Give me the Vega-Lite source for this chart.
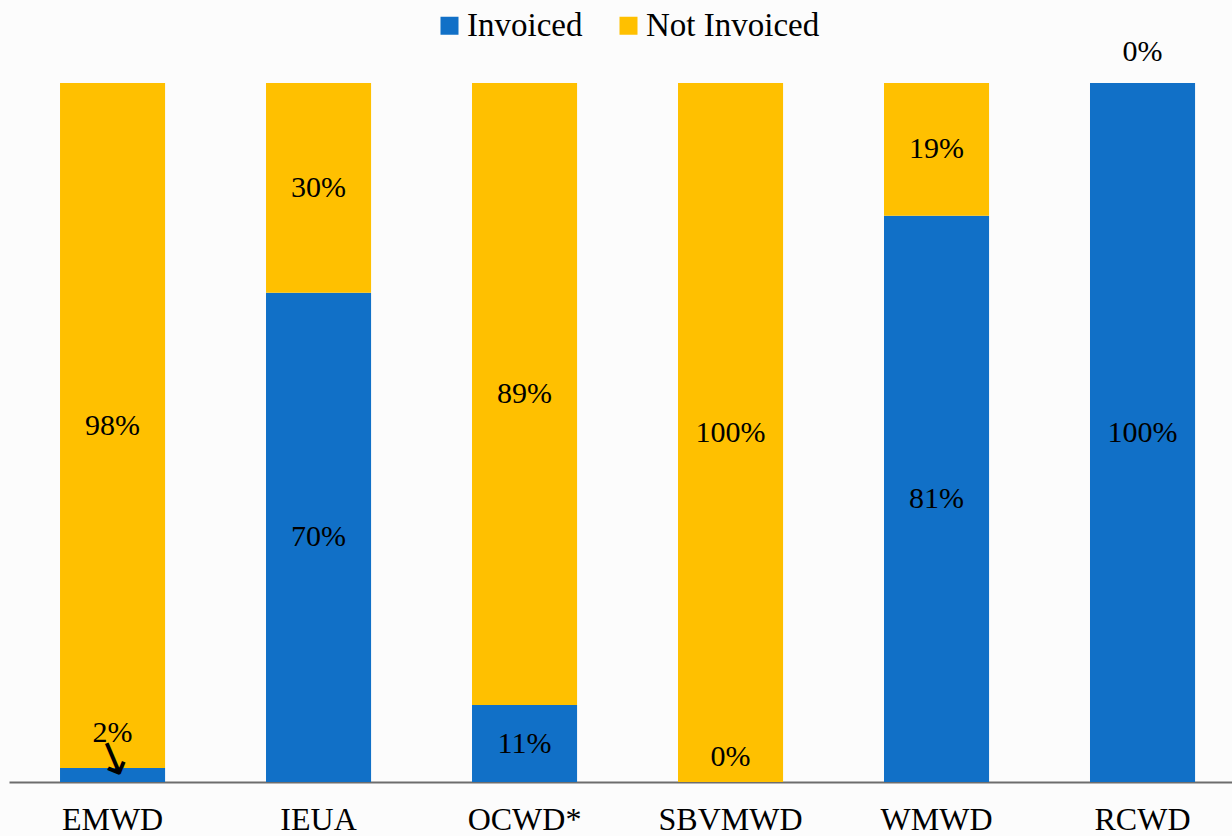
{
  "$schema": "https://vega.github.io/schema/vega-lite/v6.json",
  "width": 1223,
  "height": 699,
  "autosize": {"type": "none"},
  "padding": {"left": 9, "top": 83, "right": 0, "bottom": 54},
  "background": "#fcfcfc",
  "config": {"view": {"stroke": null}, "font": "Liberation Serif"},
  "data": {
    "values": [
      {"site": "EMWD", "status": "Invoiced", "pct": 0.02},
      {"site": "EMWD", "status": "Not Invoiced", "pct": 0.98},
      {"site": "IEUA", "status": "Invoiced", "pct": 0.70},
      {"site": "IEUA", "status": "Not Invoiced", "pct": 0.30},
      {"site": "OCWD*", "status": "Invoiced", "pct": 0.11},
      {"site": "OCWD*", "status": "Not Invoiced", "pct": 0.89},
      {"site": "SBVMWD", "status": "Invoiced", "pct": 0.0},
      {"site": "SBVMWD", "status": "Not Invoiced", "pct": 1.0},
      {"site": "WMWD", "status": "Invoiced", "pct": 0.81},
      {"site": "WMWD", "status": "Not Invoiced", "pct": 0.19},
      {"site": "RCWD", "status": "Invoiced", "pct": 1.0},
      {"site": "RCWD", "status": "Not Invoiced", "pct": 0.0}
    ]
  },
  "transform": [
    {"stack": "pct", "groupby": ["site"], "sort": [{"field": "status", "order": "ascending"}], "as": ["y0", "y1"]},
    {"fold": ["y0", "y1"], "as": ["edge", "pos"]},
    {"aggregate": [{"op": "mean", "field": "pos", "as": "mid"}], "groupby": ["site", "status", "pct"]}
  ],
  "encoding": {
    "x": {
      "field": "site",
      "type": "nominal",
      "sort": ["EMWD", "IEUA", "OCWD*", "SBVMWD", "WMWD", "RCWD"],
      "scale": {"paddingInner": 0.49, "paddingOuter": 0.2135, "align": 0.58, "round": false},
      "axis": {
        "title": null,
        "ticks": false,
        "labelAngle": 0,
        "labelFont": "Liberation Serif",
        "labelFontSize": 32,
        "labelColor": "#000000",
        "labelBaseline": "alphabetic",
        "labelPadding": 47,
        "domainColor": "#6d6d6d",
        "domainWidth": 2,
        "grid": false
      }
    }
  },
  "layer": [
    {
      "mark": {"type": "bar"},
      "encoding": {
        "y": {"field": "pct", "type": "quantitative", "stack": "zero", "scale": {"domain": [0, 1], "nice": false}, "axis": null},
        "order": {"field": "status", "sort": "ascending"},
        "color": {
          "field": "status",
          "type": "nominal",
          "scale": {"domain": ["Invoiced", "Not Invoiced"], "range": ["#1170C7", "#FFC000"]},
          "legend": {
            "title": null,
            "orient": "none",
            "direction": "horizontal",
            "legendX": 424,
            "legendY": -74,
            "padding": 0,
            "symbolType": "square",
            "symbolSize": 324,
            "symbolStrokeWidth": 0,
            "symbolOpacity": 1,
            "labelFont": "Liberation Serif",
            "labelFontSize": 33,
            "labelColor": "#000000",
            "labelOffset": 1,
            "labelLimit": 0,
            "columnPadding": 29
          }
        }
      }
    },
    {
      "transform": [{"filter": "!((datum.site==='SBVMWD'&&datum.status==='Invoiced')||(datum.site==='RCWD'&&datum.status==='Not Invoiced')||(datum.site==='EMWD'&&datum.status==='Invoiced'))"}],
      "mark": {"type": "text", "fontSize": 30, "baseline": "middle", "font": "Liberation Serif", "color": "#000000"},
      "encoding": {
        "y": {"field": "mid", "type": "quantitative", "stack": null},
        "text": {"field": "pct", "type": "quantitative", "format": ".0%"}
      }
    },
    {
      "transform": [{"filter": "datum.site==='SBVMWD'&&datum.status==='Invoiced'"}],
      "mark": {"type": "text", "fontSize": 30, "baseline": "middle", "font": "Liberation Serif", "color": "#000000", "dy": -25},
      "encoding": {
        "y": {"field": "mid", "type": "quantitative", "stack": null},
        "text": {"field": "pct", "type": "quantitative", "format": ".0%"}
      }
    },
    {
      "transform": [{"filter": "datum.site==='RCWD'&&datum.status==='Not Invoiced'"}],
      "mark": {"type": "text", "fontSize": 30, "baseline": "middle", "font": "Liberation Serif", "color": "#000000", "dy": -31},
      "encoding": {
        "y": {"field": "mid", "type": "quantitative", "stack": null},
        "text": {"field": "pct", "type": "quantitative", "format": ".0%"}
      }
    },
    {
      "transform": [{"filter": "datum.site==='EMWD'&&datum.status==='Invoiced'"}],
      "mark": {"type": "text", "fontSize": 30, "baseline": "middle", "font": "Liberation Serif", "color": "#000000", "dy": -42},
      "encoding": {
        "y": {"field": "mid", "type": "quantitative", "stack": null},
        "text": {"field": "pct", "type": "quantitative", "format": ".0%"}
      }
    },
    {
      "transform": [{"filter": "datum.site==='EMWD'&&datum.status==='Invoiced'"}],
      "mark": {"type": "text", "fontSize": 46, "baseline": "middle", "font": "DejaVu Sans", "color": "#000000", "angle": 337, "dx": 7, "dy": -12},
      "encoding": {
        "y": {"field": "mid", "type": "quantitative", "stack": null},
        "text": {"value": "↓"}
      }
    }
  ]
}
